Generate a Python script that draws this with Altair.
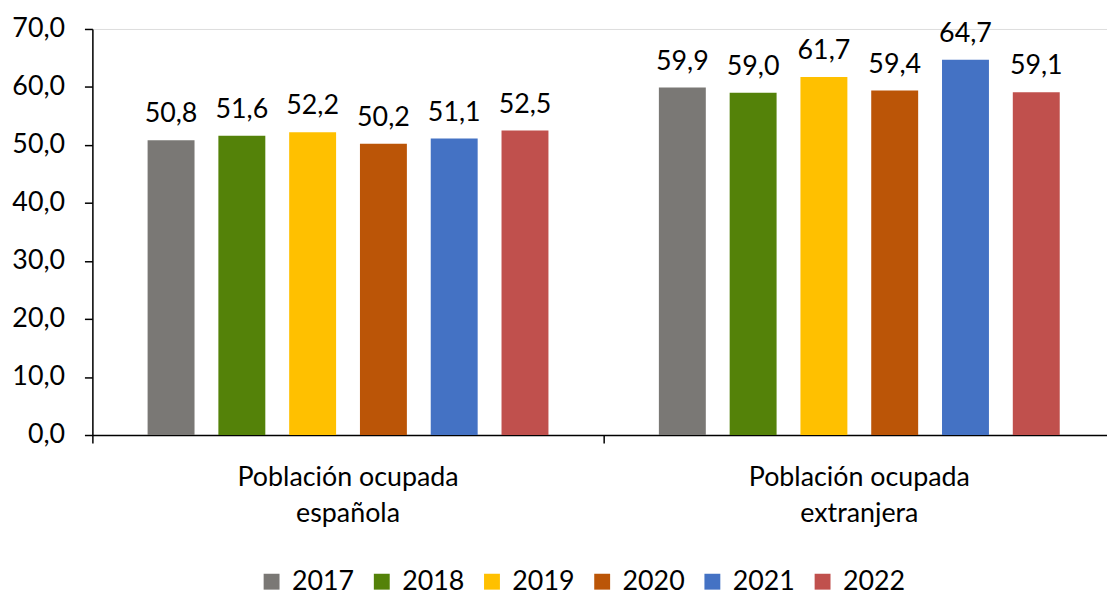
import altair as alt
import pandas as pd

groups = ["Población ocupada|española", "Población ocupada|extranjera"]
years = ["2017", "2018", "2019", "2020", "2021", "2022"]
espanola = [50.8, 51.6, 52.2, 50.2, 51.1, 52.5]
extranjera = [59.9, 59.0, 61.7, 59.4, 64.7, 59.1]
colors = ["#7A7875", "#548209", "#FFC000", "#BB5507", "#4472C4", "#C0504D"]
y_ticks = [0, 10, 20, 30, 40, 50, 60, 70]

rows = []
for g, vals in zip(groups, [espanola, extranjera]):
    for yr, v in zip(years, vals):
        rows.append({"grupo": g, "year": yr, "valor": v,
                     "etiqueta": f"{v:.1f}".replace(".", ",")})
df = pd.DataFrame(rows)

FONT = "Lato"
FS = 27

x_enc = alt.X("grupo:N", sort=groups, title=None,
              scale=alt.Scale(range=[0, 1030], paddingInner=0, paddingOuter=0),
              axis=alt.Axis(labelExpr="split(datum.label, '|')", labelAngle=0,
                            labelFontSize=FS, labelFont=FONT, labelColor="black",
                            labelPadding=22, labelLineHeight=36, labelLimit=0,
                            tickSize=8, tickColor="black", tickWidth=1.5,
                            bandPosition=0, domainColor="black", domainWidth=1.5,
                            grid=False))
xo_enc = alt.XOffset("year:N", sort=years,
                     scale=alt.Scale(paddingInner=0.337, paddingOuter=0.78))
y_enc = alt.Y("valor:Q", title=None,
              scale=alt.Scale(domain=[0, 70], nice=False),
              axis=alt.Axis(values=y_ticks, labelExpr="replace(format(datum.value, '.1f'), '.', ',')",
                            labelFontSize=FS, labelFont=FONT, labelColor="black",
                            labelPadding=20, tickSize=8, tickColor="black", tickWidth=1.5,
                            domainColor="black", domainWidth=1.5, grid=False))

base = alt.Chart(df)

bars = base.mark_bar().encode(
    x=x_enc, xOffset=xo_enc, y=y_enc,
    color=alt.Color("year:N", sort=years,
                    scale=alt.Scale(domain=years, range=colors),
                    legend=alt.Legend(title=None, orient="none", direction="horizontal",
                                      legendX=167, legendY=543, padding=0,
                                      symbolType="square", symbolSize=256,
                                      symbolStrokeWidth=0,
                                      labelFontSize=FS, labelFont=FONT, labelColor="black",
                                      labelOffset=7, columnPadding=14)),
)

labels = base.mark_text(baseline="alphabetic", dy=-18, fontSize=FS, font=FONT,
                        color="black").encode(
    x=alt.X("grupo:N", sort=groups), xOffset=alt.XOffset("year:N", sort=years),
    y=alt.Y("valor:Q"), text="etiqueta:N")

chart = (bars + labels).properties(
    width=1022, height=409,
    autosize=alt.AutoSizeParams(type="none"),
    padding={"left": 85, "top": 19, "right": 0, "bottom": 155},
).configure_view(stroke=None).configure(font=FONT)

chart.save("out.html", embed_options={"renderer": "svg", "actions": False})
